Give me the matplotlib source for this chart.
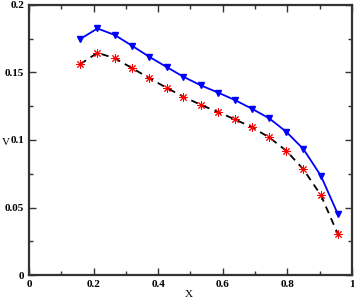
import matplotlib
matplotlib.use('Agg')
import matplotlib.pyplot as plt
from matplotlib.ticker import MultipleLocator

# values
x_vals = [0.158, 0.212, 0.266, 0.319, 0.372, 0.426, 0.478, 0.532,
          0.586, 0.638, 0.691, 0.744, 0.797, 0.850, 0.904, 0.957]
v_upper = [0.1746, 0.1825, 0.1776, 0.1697, 0.1616, 0.1540, 0.1468, 0.1404,
           0.1350, 0.1295, 0.1230, 0.1160, 0.1060, 0.0932, 0.0735, 0.0449]
v_lower = [0.1560, 0.1645, 0.1604, 0.1532, 0.1458, 0.1386, 0.1320, 0.1260,
           0.1206, 0.1152, 0.1093, 0.1019, 0.0920, 0.0782, 0.0592, 0.0301]
x_ticks = [0, 0.2, 0.4, 0.6, 0.8, 1.0]
x_ticklabels = ['0', '0.2', '0.4', '0.6', '0.8', '1']
y_ticks = [0, 0.05, 0.1, 0.15, 0.2]
y_ticklabels = ['0', '0.05', '0.1', '0.15', '0.2']

plt.rcParams['font.family'] = 'Liberation Serif'
plt.rcParams['font.weight'] = 'bold'

fig = plt.figure(figsize=(3.54, 3.00), dpi=100)
ax = fig.add_axes([0.082, 0.083, 0.912, 0.901])

ax.plot(x_vals, v_upper, color='blue', lw=1.3, marker='v', ms=5,
        markerfacecolor='blue', markeredgecolor='blue')
ax.plot(x_vals, v_lower, color='black', lw=1.3, ls=(0, (4, 3)))
ax.plot(x_vals, v_lower, ls='none', marker=(8, 2, 0), ms=6, color='red',
        markeredgewidth=0.7)

ax.set_xlim(0, 1)
ax.set_ylim(0, 0.2)
ax.xaxis.set_minor_locator(MultipleLocator(0.1))
ax.yaxis.set_minor_locator(MultipleLocator(0.025))
ax.set_xticks(x_ticks)
ax.set_xticklabels(x_ticklabels)
ax.set_yticks(y_ticks)
ax.set_yticklabels(y_ticklabels)

ax.tick_params(which='both', direction='in', top=True, right=True,
               labelsize=8, colors='#333333', labelcolor='black', width=1)
ax.tick_params(which='major', length=5)
ax.tick_params(which='minor', length=3)
for s in ax.spines.values():
    s.set_linewidth(1.6)
    s.set_color('#333333')

ax.set_xlabel('X', fontsize=8, fontweight='normal')
ax.set_ylabel('V', fontsize=8, fontweight='normal', rotation=0)
ax.xaxis.set_label_coords(0.495, -0.055)
ax.yaxis.set_label_coords(-0.072, 0.475)

fig.savefig('out.png', dpi=100)
